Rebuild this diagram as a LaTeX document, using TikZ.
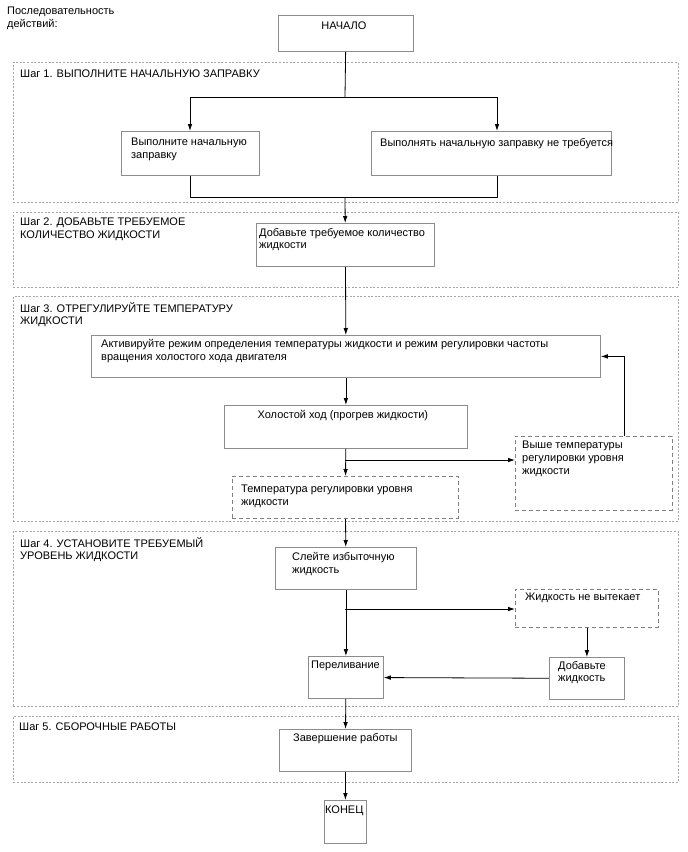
\documentclass[tikz,border=0pt]{standalone}
\usepackage{fontspec}
\setmainfont{Liberation Sans}
\usetikzlibrary{arrows.meta,positioning,calc}

\begin{document}
\begin{tikzpicture}[x=1pt,y=-1pt,>={Latex[length=7pt,width=4.6pt]},font=\fontsize{11}{12.7}\selectfont]
  \tikzstyle{frame}=[draw=black!35,dash pattern=on 2pt off 1.6pt,line width=0.7pt,anchor=north west,inner sep=0pt]
  \tikzstyle{stepbox}=[draw=black!45,line width=0.8pt,anchor=north west,inner sep=0pt]
  \tikzstyle{dashbox}=[stepbox,draw=black!50,dash pattern=on 4pt off 3pt]
  \tikzstyle{txt}=[inner sep=0pt,anchor=north west,align=left]
  \tikzstyle{link}=[line width=0.8pt]
  \useasboundingbox (0,0) rectangle (688,852);

  \node[txt] (title) at (7,7) {Последовательность\\действий:};

  \node[frame,minimum width=665pt,minimum height=140pt] (frameone) at (13,62) {};
  \node[frame,minimum width=665pt,minimum height=75pt] (frametwo) at (13,212) {};
  \node[frame,minimum width=665pt,minimum height=225pt] (framethree) at (13,296) {};
  \node[frame,minimum width=665pt,minimum height=175pt] (framefour) at (13,531) {};
  \node[frame,minimum width=665pt,minimum height=66pt] (framefive) at (13,716) {};
  \node[txt] at ([shift={(7,8)}]frameone.north west) {Шаг 1. ВЫПОЛНИТЕ НАЧАЛЬНУЮ ЗАПРАВКУ};
  \node[txt] at ([shift={(7,6)}]frametwo.north west) {Шаг 2. ДОБАВЬТЕ ТРЕБУЕМОЕ\\КОЛИЧЕСТВО ЖИДКОСТИ};
  \node[txt] at ([shift={(7,6)}]framethree.north west) {Шаг 3. ОТРЕГУЛИРУЙТЕ ТЕМПЕРАТУРУ\\ЖИДКОСТИ};
  \node[txt] at ([shift={(7,6)}]framefour.north west) {Шаг 4. УСТАНОВИТЕ ТРЕБУЕМЫЙ\\УРОВЕНЬ ЖИДКОСТИ};
  \node[txt] at ([shift={(6,7)}]framefive.north west) {Шаг 5. СБОРОЧНЫЕ РАБОТЫ};

  \node[stepbox,minimum width=135pt,minimum height=36pt] (start) at (278,15) {};
  \node[stepbox,minimum width=138pt,minimum height=44pt] (fill) at (121,131) {};
  \node[stepbox,minimum width=240pt,minimum height=44pt] (nofill) at (371,131) {};
  \node[stepbox,minimum width=178pt,minimum height=43pt] (add) at (256,223) {};
  \node[stepbox,minimum width=509pt,minimum height=42pt] (activate) at (91,335) {};
  \node[stepbox,minimum width=243pt,minimum height=43pt] (idle) at (224,405) {};
  \node[dashbox,minimum width=226pt,minimum height=42pt] (temp) at (232,476) {};
  \node[dashbox,minimum width=157pt,minimum height=74pt] (hot) at (515,436) {};
  \node[stepbox,minimum width=141pt,minimum height=42pt] (drain) at (275,547) {};
  \node[dashbox,minimum width=143pt,minimum height=38pt] (noleak) at (515,589) {};
  \node[stepbox,minimum width=75pt,minimum height=42pt] (addfluid) at (549,657) {};
  \node[stepbox,minimum width=75pt,minimum height=42pt] (overflow) at (308,656) {};
  \node[stepbox,minimum width=132pt,minimum height=42pt] (finish) at (279,729) {};
  \node[stepbox,minimum width=42pt,minimum height=43pt] (end) at (324,800) {};

  \node[txt,anchor=north] at ([shift={(-2,7)}]start.north) {НАЧАЛО};
  \node[txt] at ([shift={(10,7)}]fill.north west) {Выполните начальную\\заправку};
  \node[txt] at ([shift={(9,7)}]nofill.north west) {Выполнять начальную заправку не требуется};
  \node[txt] at ([shift={(3,5)}]add.north west) {Добавьте требуемое количество\\жидкости};
  \node[txt] at ([shift={(10,4)}]activate.north west) {Активируйте режим определения температуры жидкости и режим регулировки частоты\\вращения холостого хода двигателя};
  \node[txt,anchor=north] at ([shift={(-3,5)}]idle.north) {Холостой ход (прогрев жидкости)};
  \node[txt] at ([shift={(9,9)}]temp.north west) {Температура регулировки уровня\\жидкости};
  \node[txt] at ([shift={(7,5)}]hot.north west) {Выше температуры\\регулировки уровня\\жидкости};
  \node[txt] at ([shift={(17,5)}]drain.north west) {Слейте избыточную\\жидкость};
  \node[txt] at ([shift={(10,4)}]noleak.north west) {Жидкость не вытекает};
  \node[txt] at ([shift={(9,4)}]addfluid.north west) {Добавьте\\жидкость};
  \node[txt] at ([shift={(3,5)}]overflow.north west) {Переливание};
  \node[txt,anchor=north] at ([shift={(0,4)}]finish.north) {Завершение работы};
  \node[txt] at ([shift={(1,6)}]end.north west) {КОНЕЦ};

  \coordinate (split) at (345,97);
  \coordinate (splitl) at (190,97);
  \coordinate (splitr) at (497,97);
  \coordinate (join) at (345,197);
  \coordinate (hotsplit) at (345,460);
  \coordinate (leaksplit) at (345,609);

  \draw[link] (start) -- (split);
  \draw[link] (splitl) -- (splitr);
  \draw[link,->] (splitl) -- (splitl |- fill.north);
  \draw[link,->] (splitr) -- (splitr |- nofill.north);
  \draw[link] (splitl |- fill.south) -- (splitl |- join) -- (splitr |- join) -- (splitr |- nofill.south);
  \draw[link,->] (join) -- (add);
  \draw[link,->] (add) -- (activate);
  \draw[link,->] (activate) -- (idle);
  \draw[link,->] (idle) -- (temp);
  \draw[link,->] (hotsplit) -- (hotsplit -| hot.west);
  \draw[link,->] ([xshift=30.5pt]hot.north) |- (activate);
  \draw[link,->] (temp) -- (drain);
  \draw[link,->] (drain) -- (overflow);
  \draw[link,->] (leaksplit) -- (leaksplit -| noleak.west);
  \draw[link,->] (noleak) -- (addfluid);
  \draw[link,->] (addfluid) -- (overflow);
  \draw[link,->] (overflow) -- (finish);
  \draw[link,->] (finish) -- (end);
\end{tikzpicture}
\end{document}
